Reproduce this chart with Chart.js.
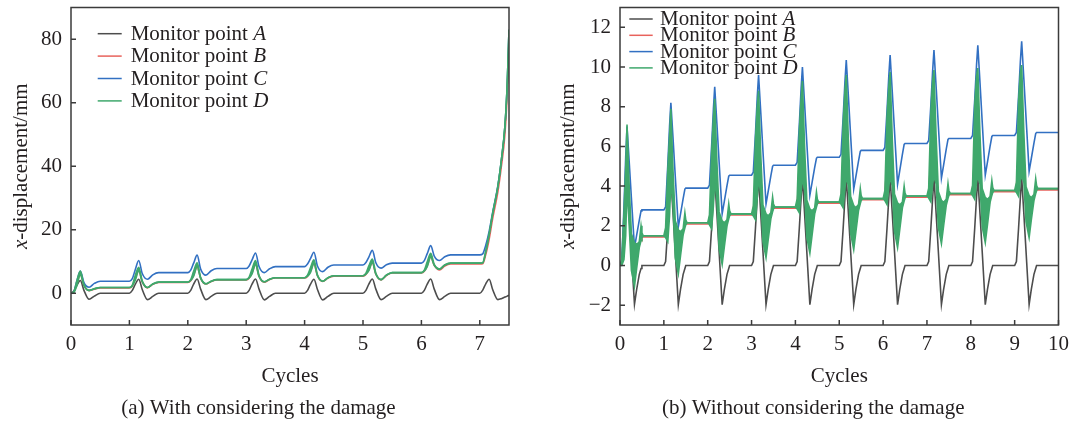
<!DOCTYPE html>
<html>
<head>
<meta charset="utf-8">
<script src="https://cdn.jsdelivr.net/npm/chart.js@4.4.1/dist/chart.umd.min.js"></script>
<style>
  html, body { margin: 0; padding: 0; background: #fff; }
  #wrap { position: relative; width: 1072px; height: 421px; overflow: hidden; }
  .panel { position: absolute; top: 0; width: 536px; height: 421px; }
  #panelA { left: 0; }
  #panelB { left: 536px; }
</style>
</head>
<body>
<div id="wrap">
  <div class="panel" id="panelA"><canvas id="chartA" width="536" height="421"></canvas></div>
  <div class="panel" id="panelB"><canvas id="chartB" width="536" height="421"></canvas></div>
</div>
<script>
// (a) with damage: cycles and x-displacement (mm) of monitor points A-D
var dmgCycles = [
  0, 0.05, 0.1, 0.16, 0.22, 0.31, 0.4, 0.5,
  1, 1.05, 1.1, 1.16, 1.22, 1.31, 1.4, 1.5,
  2, 2.05, 2.1, 2.16, 2.22, 2.31, 2.4, 2.5,
  3, 3.05, 3.1, 3.16, 3.22, 3.31, 3.4, 3.5,
  4, 4.05, 4.1, 4.16, 4.22, 4.31, 4.4, 4.5,
  5, 5.05, 5.1, 5.16, 5.22, 5.31, 5.4, 5.5,
  6, 6.05, 6.1, 6.16, 6.22, 6.31, 6.4, 6.5,
  7, 7.05, 7.1, 7.16, 7.22, 7.31, 7.37, 7.43, 7.47, 7.5
];
var dmgA = [
  0, 0.7, 2.5, 4.0, 1.0, -1.9, -0.9, 0,
  0, 0.9, 2.8, 4.4, 1.2, -2.0, -1.0, 0,
  0, 0.9, 2.9, 4.5, 1.3, -2.0, -1.0, 0,
  0, 0.9, 2.9, 4.5, 1.3, -2.1, -1.0, 0,
  0, 0.9, 2.8, 4.4, 1.2, -2.1, -1.0, 0,
  0, 0.9, 2.9, 4.5, 1.3, -2.0, -1.0, 0,
  0, 0.9, 2.9, 4.5, 1.3, -2.0, -1.0, 0,
  0, 1.0, 2.9, 4.4, 1.2, -2.0, -1.7, -1.2, -0.9, -0.6
];
var dmgB = [
  0, 0.5, 3.0, 6.0, 2.6, 0.8, 1.3, 1.7,
  1.7, 2.3, 4.5, 7.1, 3.6, 1.7, 2.8, 3.4,
  3.4, 3.9, 5.7, 8.4, 4.7, 2.9, 3.7, 4.2,
  4.2, 4.7, 6.4, 9.1, 5.3, 3.5, 4.3, 4.8,
  4.8, 5.3, 6.9, 9.3, 5.5, 3.7, 4.8, 5.4,
  5.4, 5.9, 7.4, 9.6, 6.0, 4.2, 5.6, 6.4,
  6.4, 6.9, 8.7, 11.4, 8.8, 7.3, 8.6, 9.2,
  9.2, 9.3, 12, 17, 23.5, 32, 40, 50, 63, 80
];
var dmgC = [
  0, 0.6, 3.9, 7.0, 3.4, 1.9, 3.1, 3.8,
  3.8, 4.6, 7.4, 10.3, 6.2, 4.4, 5.8, 6.5,
  6.5, 7.3, 9.5, 12.0, 7.6, 5.7, 7.1, 7.8,
  7.8, 8.6, 10.5, 12.7, 8.4, 6.5, 7.7, 8.4,
  8.4, 9.2, 10.9, 12.9, 8.6, 6.8, 8.2, 8.9,
  8.9, 9.7, 11.4, 13.5, 9.6, 7.9, 9.0, 9.5,
  9.5, 10.3, 12.5, 15.0, 11.7, 10.3, 11.5, 12.1,
  12.1, 12.4, 15, 19.5, 25.5, 34, 42, 52.6, 66, 83
];
// point D oscillates: upper and lower edge of the green band
var dmgDHigh = [
  0, 0.6, 3.9, 7.0, 2.8, 0.9, 1.4, 1.8,
  1.8, 2.6, 5.6, 8.2, 3.9, 1.8, 2.9, 3.5,
  3.5, 4.3, 6.9, 9.6, 5.0, 3.0, 3.8, 4.3,
  4.3, 5.1, 7.6, 10.3, 5.6, 3.6, 4.4, 4.9,
  4.9, 5.7, 8.0, 10.5, 5.8, 3.8, 4.9, 5.5,
  5.5, 6.3, 8.6, 10.8, 6.3, 4.3, 5.7, 6.5,
  6.5, 7.3, 9.9, 12.6, 9.1, 7.6, 8.9, 9.5,
  9.5, 9.6, 13, 18.5, 25, 33.7, 42, 52.6, 66, 83
];
var dmgDLow = [
  0, 0.3, 2.4, 5.8, 2.5, 0.9, 1.4, 1.8,
  1.8, 2.3, 4.1, 7.0, 3.6, 1.8, 2.9, 3.5,
  3.5, 4.0, 5.4, 8.4, 4.7, 3.0, 3.8, 4.3,
  4.3, 4.8, 6.1, 9.1, 5.3, 3.6, 4.4, 4.9,
  4.9, 5.4, 6.5, 9.3, 5.5, 3.8, 4.9, 5.5,
  5.5, 6.0, 7.1, 9.6, 6.0, 4.3, 5.7, 6.5,
  6.5, 7.0, 8.4, 11.4, 8.8, 7.6, 8.9, 9.5,
  9.5, 9.6, 13, 18.5, 25, 33.7, 42, 52.6, 66, 83
];
var dmgXTicks = [0, 1, 2, 3, 4, 5, 6, 7];
var dmgYTicks = [0, 20, 40, 60, 80];

// (b) without damage
var noCycles = [
  0, 0.04, 0.09, 0.13, 0.16, 0.21, 0.26, 0.33, 0.38, 0.44, 0.48, 0.5, 0.53,
  1, 1.04, 1.09, 1.13, 1.16, 1.21, 1.26, 1.33, 1.38, 1.44, 1.48, 1.5, 1.53,
  2, 2.04, 2.09, 2.13, 2.16, 2.21, 2.26, 2.33, 2.38, 2.44, 2.48, 2.5, 2.53,
  3, 3.04, 3.09, 3.13, 3.16, 3.21, 3.26, 3.33, 3.38, 3.44, 3.48, 3.5, 3.53,
  4, 4.04, 4.09, 4.13, 4.16, 4.21, 4.26, 4.33, 4.38, 4.44, 4.48, 4.5, 4.53,
  5, 5.04, 5.09, 5.13, 5.16, 5.21, 5.26, 5.33, 5.38, 5.44, 5.48, 5.5, 5.53,
  6, 6.04, 6.09, 6.13, 6.16, 6.21, 6.26, 6.33, 6.38, 6.44, 6.48, 6.5, 6.53,
  7, 7.04, 7.09, 7.13, 7.16, 7.21, 7.26, 7.33, 7.38, 7.44, 7.48, 7.5, 7.53,
  8, 8.04, 8.09, 8.13, 8.16, 8.21, 8.26, 8.33, 8.38, 8.44, 8.48, 8.5, 8.53,
  9, 9.04, 9.09, 9.13, 9.16, 9.21, 9.26, 9.33, 9.38, 9.44, 9.48, 9.5, 9.53,
  10
];
var noA = [
  0, 0.2, 1.8, 3.3, 4.3, 2.5, 0.6, -1.95, -1.2, -0.45, -0.15, 0, 0,
  0, 0.2, 1.9, 3.4, 4.45, 2.6, 0.7, -1.97, -1.2, -0.45, -0.15, 0, 0,
  0, 0.2, 1.9, 3.4, 4.45, 2.6, 0.7, -1.98, -1.2, -0.45, -0.15, 0, 0,
  0, 0.2, 1.9, 3.4, 4.45, 2.6, 0.7, -1.97, -1.2, -0.45, -0.15, 0, 0,
  0, 0.2, 1.9, 3.4, 4.45, 2.6, 0.7, -1.98, -1.2, -0.45, -0.15, 0, 0,
  0, 0.2, 1.9, 3.4, 4.45, 2.6, 0.7, -1.97, -1.2, -0.45, -0.15, 0, 0,
  0, 0.2, 1.9, 3.4, 4.45, 2.6, 0.7, -1.98, -1.2, -0.45, -0.15, 0, 0,
  0, 0.2, 1.9, 3.4, 4.45, 2.6, 0.7, -1.97, -1.2, -0.45, -0.15, 0, 0,
  0, 0.2, 1.9, 3.4, 4.45, 2.6, 0.7, -1.98, -1.2, -0.45, -0.15, 0, 0,
  0, 0.2, 1.9, 3.4, 4.45, 2.6, 0.7, -1.97, -1.2, -0.45, -0.15, 0, 0,
  0
];
var noB = [
  0, 0.15, 1.4, 3.2, 5.5, 3.0, 0.7, -0.1, 0.4, 1.05, 1.6, 1.44, 1.44,
  1.44, 1.65, 3.0, 4.5, 6.1, 3.9, 1.3, 0.6, 1.06, 1.7, 2.2, 2.09, 2.09,
  2.09, 2.3, 3.8, 5.2, 6.3, 4.25, 1.8, 1.0, 1.5, 2.15, 2.7, 2.54, 2.54,
  2.54, 2.75, 4.3, 5.7, 6.6, 4.6, 2.1, 1.4, 1.9, 2.5, 3.05, 2.89, 2.89,
  2.89, 3.1, 4.7, 6.0, 6.8, 4.9, 2.35, 1.6, 2.1, 2.75, 3.3, 3.14, 3.14,
  3.14, 3.35, 5.0, 6.3, 7.0, 5.1, 2.5, 1.8, 2.3, 2.9, 3.5, 3.31, 3.31,
  3.31, 3.55, 5.3, 6.5, 7.1, 5.15, 2.65, 1.9, 2.4, 3.05, 3.6, 3.44, 3.44,
  3.44, 3.65, 5.5, 6.7, 7.2, 5.25, 2.8, 2.05, 2.55, 3.2, 3.75, 3.57, 3.57,
  3.57, 3.8, 5.7, 6.85, 7.2, 5.3, 2.9, 2.15, 2.65, 3.3, 3.9, 3.72, 3.72,
  3.72, 3.95, 5.9, 7.0, 7.3, 5.45, 3.1, 2.35, 2.85, 3.4, 4.0, 3.81, 3.81,
  3.81
];
var noC = [
  0, 0.15, 2.94, 5.46, 7.0, 5.23, 3.4, 0.9, 1.53, 2.29, 2.75, 2.8, 2.8,
  2.8, 2.95, 5.07, 7.01, 8.2, 6.39, 4.51, 1.95, 2.59, 3.37, 3.85, 3.9, 3.9,
  3.9, 4.05, 6.04, 7.88, 9.0, 7.14, 5.22, 2.6, 3.24, 4.02, 4.5, 4.55, 4.55,
  4.55, 4.7, 6.67, 8.49, 9.6, 7.72, 5.77, 3.1, 3.74, 4.52, 5.0, 5.05, 5.05,
  5.05, 5.2, 7.13, 8.91, 10.0, 8.13, 6.19, 3.55, 4.18, 4.94, 5.4, 5.45, 5.45,
  5.45, 5.6, 7.51, 9.27, 10.35, 8.47, 6.52, 3.85, 4.49, 5.27, 5.75, 5.8, 5.8,
  5.8, 5.95, 7.82, 9.54, 10.6, 8.72, 6.77, 4.1, 4.78, 5.6, 6.1, 6.15, 6.15,
  6.15, 6.3, 8.12, 9.82, 10.85, 8.98, 7.04, 4.4, 5.06, 5.86, 6.35, 6.4, 6.4,
  6.4, 6.55, 8.37, 10.07, 11.1, 9.2, 7.24, 4.55, 5.21, 6.01, 6.5, 6.55, 6.55,
  6.55, 6.7, 8.55, 10.26, 11.3, 9.4, 7.44, 4.75, 5.39, 6.17, 6.65, 6.7, 6.7,
  6.7
];
var noDHigh = [
  0, 0.3, 2.6, 4.9, 7.1, 4.0, 1.6, 1.15, 1.05, 1.2, 2.0, 1.65, 1.5,
  1.5, 1.9, 4.8, 6.5, 7.9, 4.74, 2.25, 1.8, 1.7, 1.85, 2.65, 2.3, 2.15,
  2.15, 2.55, 5.7, 7.4, 8.4, 5.21, 2.7, 2.25, 2.15, 2.3, 3.1, 2.75, 2.6,
  2.6, 3.0, 6.4, 8.0, 8.8, 5.58, 3.05, 2.6, 2.5, 2.65, 3.45, 3.1, 2.95,
  2.95, 3.35, 6.8, 8.4, 9.3, 5.95, 3.3, 2.85, 2.75, 2.9, 3.7, 3.35, 3.2,
  3.2, 3.6, 7.2, 8.8, 9.6, 6.17, 3.47, 3.02, 2.92, 3.07, 3.87, 3.52, 3.37,
  3.37, 3.77, 7.5, 9.0, 9.75, 6.31, 3.6, 3.15, 3.05, 3.2, 4.0, 3.65, 3.5,
  3.5, 3.9, 7.8, 9.3, 9.85, 6.43, 3.73, 3.28, 3.18, 3.33, 4.13, 3.78, 3.63,
  3.63, 4.03, 8.1, 9.5, 9.95, 6.55, 3.88, 3.43, 3.33, 3.48, 4.28, 3.93, 3.78,
  3.78, 4.18, 8.3, 9.7, 10.1, 6.67, 3.97, 3.52, 3.42, 3.57, 4.37, 4.02, 3.87,
  3.87
];
var noDLow = [
  0, 0, 0.3, 1.5, 4.0, 2.0, -0.25, -1.05, -0.15, 0.9, 1.25, 1.4, 1.5,
  1.5, 1.4, 1.2, 2.5, 4.3, 3.0, 0.38, -0.42, 0.48, 1.55, 1.9, 2.05, 2.15,
  2.15, 2.05, 1.85, 3.0, 4.3, 3.3, 0.85, 0.05, 0.95, 2.0, 2.35, 2.5, 2.6,
  2.6, 2.5, 2.3, 3.4, 4.4, 3.6, 1.2, 0.4, 1.3, 2.35, 2.7, 2.85, 2.95,
  2.95, 2.85, 2.65, 3.7, 4.4, 3.8, 1.42, 0.62, 1.52, 2.6, 2.95, 3.1, 3.2,
  3.2, 3.1, 2.9, 3.9, 4.45, 4.0, 1.6, 0.8, 1.7, 2.77, 3.12, 3.27, 3.37,
  3.37, 3.27, 3.07, 4.0, 4.45, 4.0, 1.7, 0.9, 1.8, 2.9, 3.25, 3.4, 3.5,
  3.5, 3.4, 3.2, 4.1, 4.5, 4.1, 1.9, 1.1, 2.0, 3.03, 3.38, 3.53, 3.63,
  3.63, 3.53, 3.33, 4.2, 4.5, 4.1, 1.95, 1.15, 2.05, 3.18, 3.53, 3.68, 3.78,
  3.78, 3.68, 3.48, 4.3, 4.5, 4.2, 2.2, 1.4, 2.3, 3.27, 3.62, 3.77, 3.87,
  3.87
];
var noXTicks = [0, 1, 2, 3, 4, 5, 6, 7, 8, 9, 10];
var noYTicks = [-2, 0, 2, 4, 6, 8, 10, 12];

var serif = '"Liberation Serif", "Times New Roman", serif',
    ink = '#231f20',
    colA = '#4d4d4d',
    colB = '#e8625c',
    colC = '#3270c2',
    colD = '#3fa86c';

function points(xs, ys) {
    return xs.map(function (x, i) {
        return {x: x, y: ys[i]};
    });
}

function tickText(v) {
    return v < 0 ? '\u2212' + Math.abs(v) : String(v);
}

// box frame, inward ticks, legend and y title (italic letters)
var panelDecor = {
    id: 'panelDecor',
    afterDatasetsDraw: function (chart, args, opts) {
        var ctx = chart.ctx,
            area = chart.chartArea,
            xs = chart.scales.x,
            ys = chart.scales.y,
            rows, regular = '21px ' + serif, italic = 'italic 21px ' + serif;

        ctx.save();
        ctx.strokeStyle = '#3b3b3b';
        ctx.lineWidth = 1.5;
        ctx.beginPath();
        xs.ticks.forEach(function (t) {
            var px = xs.getPixelForValue(t.value);
            ctx.moveTo(px, area.bottom);
            ctx.lineTo(px, area.bottom - 5);
        });
        ys.ticks.forEach(function (t) {
            var py = ys.getPixelForValue(t.value);
            ctx.moveTo(area.left, py);
            ctx.lineTo(area.left + 5, py);
        });
        ctx.stroke();
        ctx.strokeRect(area.left, area.top, area.right - area.left, area.bottom - area.top);

        rows = chart.data.datasets.filter(function (ds) { return ds.label; });
        rows.forEach(function (ds, i) {
            var y = area.top + opts.legendTop + i * opts.legendGap,
                x0 = area.left + opts.legendLeft,
                tx = x0 + opts.sampleLen + opts.textGap,
                head = ds.label.slice(0, -1),
                letter = ds.label.slice(-1);
            ctx.strokeStyle = ds.borderColor;
            ctx.lineWidth = 1.5;
            ctx.beginPath();
            ctx.moveTo(x0, y);
            ctx.lineTo(x0 + opts.sampleLen, y);
            ctx.stroke();
            ctx.fillStyle = ink;
            ctx.textAlign = 'left';
            ctx.textBaseline = 'alphabetic';
            ctx.font = regular;
            ctx.fillText(head, tx, y + 6);
            tx += ctx.measureText(head).width;
            ctx.font = italic;
            ctx.fillText(letter, tx, y + 6);
        });

        ctx.translate(opts.yTitleX, (area.top + area.bottom) / 2);
        ctx.rotate(-Math.PI / 2);
        ctx.textBaseline = 'middle';
        ctx.textAlign = 'left';
        ctx.font = italic;
        var w1 = ctx.measureText('x').width;
        ctx.font = regular;
        var w2 = ctx.measureText('-displacement/mm').width;
        ctx.font = italic;
        ctx.fillText('x', -(w1 + w2) / 2, 0);
        ctx.font = regular;
        ctx.fillText('-displacement/mm', -(w1 + w2) / 2 + w1, 0);
        ctx.restore();
    }
};

function drawPanel(canvasId, cycles, s, setup) {
    var font = {family: serif, size: 21, weight: 'normal'};
    var line = function (label, ys, color, order, extra) {
        var ds = {
            label: label,
            data: points(cycles, ys),
            borderColor: color,
            backgroundColor: color,
            borderWidth: 1.6,
            pointRadius: 0,
            fill: false,
            order: order,
            tension: 0,
            cubicInterpolationMode: setup.smooth ? 'monotone' : 'default'
        };
        return Object.assign(ds, extra || {});
    };

    return new Chart(document.getElementById(canvasId), {
        type: 'line',
        data: {
            datasets: [
                line('Monitor point A', s.a, colA, 5),
                line('Monitor point B', s.b, colB, 4),
                line('Monitor point C', s.c, colC, 3),
                line('Monitor point D', s.dHigh, colD, 1, {fill: '+1'}),
                line('', s.dLow, colD, 2)
            ]
        },
        options: {
            responsive: false,
            animation: false,
            devicePixelRatio: 1,
            layout: {padding: {left: setup.padLeft, right: setup.padRight, top: 7.5, bottom: 0}},
            plugins: {
                legend: {display: false},
                tooltip: {enabled: false},
                title: {
                    display: true,
                    position: 'bottom',
                    text: setup.caption,
                    color: ink,
                    font: font,
                    padding: {top: 0, bottom: 0}
                },
                panelDecor: setup.decor
            },
            scales: {
                x: {
                    type: 'linear',
                    min: 0,
                    max: setup.xMax,
                    grid: {display: false, drawTicks: false, tickLength: 0},
                    border: {display: false},
                    ticks: {padding: 7, color: ink, font: font, callback: tickText},
                    title: {display: true, text: 'Cycles', color: ink, font: font, padding: {top: 0, bottom: 7}},
                    afterBuildTicks: function (scale) {
                        scale.ticks = setup.xTicks.map(function (v) { return {value: v}; });
                    },
                    afterFit: function (scale) {
                        scale.height = 70.8;
                        scale.paddingLeft = 0;
                        scale.paddingRight = 0;
                    }
                },
                y: {
                    type: 'linear',
                    min: setup.yMin,
                    max: setup.yMax,
                    grid: {display: false, drawTicks: false, tickLength: 0},
                    border: {display: false},
                    ticks: {padding: 9, color: ink, font: font, callback: tickText},
                    afterBuildTicks: function (scale) {
                        scale.ticks = setup.yTicks.map(function (v) { return {value: v}; });
                    },
                    afterFit: function (scale) {
                        scale.width = setup.yWidth;
                        scale.paddingTop = 0;
                        scale.paddingBottom = 0;
                    }
                }
            }
        },
        plugins: [panelDecor]
    });
}

drawPanel('chartA', dmgCycles, {a: dmgA, b: dmgB, c: dmgC, dHigh: dmgDHigh, dLow: dmgDLow}, {
    caption: '(a) With considering the damage',
    smooth: true,
    xMax: 7.5, xTicks: dmgXTicks,
    yMin: -10, yMax: 90, yTicks: dmgYTicks,
    padLeft: 8, yWidth: 63, padRight: 27,
    decor: {legendLeft: 26.7, legendTop: 26.2, legendGap: 22.4, sampleLen: 24, textGap: 9, yTitleX: 21}
});

drawPanel('chartB', noCycles, {a: noA, b: noB, c: noC, dHigh: noDHigh, dLow: noDLow}, {
    caption: '(b) Without considering the damage',
    smooth: false,
    xMax: 10, xTicks: noXTicks,
    yMin: -3, yMax: 13, yTicks: noYTicks,
    padLeft: 32, yWidth: 52, padRight: 13.5,
    decor: {legendLeft: 9.3, legendTop: 11.5, legendGap: 16.3, sampleLen: 23.4, textGap: 7.3, yTitleX: 32}
});
</script>
</body>
</html>
